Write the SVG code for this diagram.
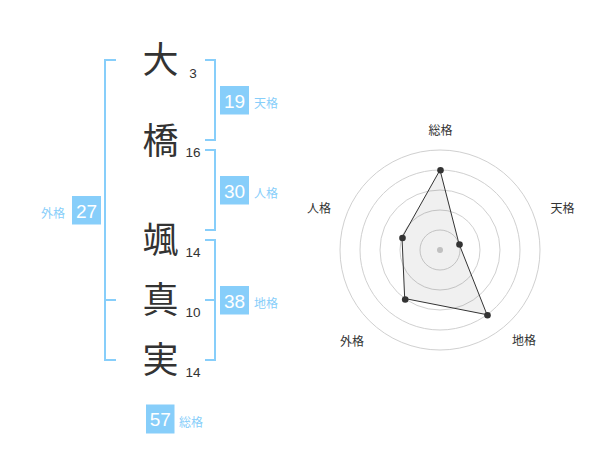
<svg xmlns="http://www.w3.org/2000/svg" width="600" height="470" viewBox="0 0 600 470">
<style>
text{font-family:"Liberation Sans","Noto Sans CJK JP",sans-serif}
.ch{font-size:36px;fill:#333;text-anchor:middle}
.st{font-size:13.5px;fill:#333;text-anchor:middle}
.br{fill:none;stroke:#87CEFA;stroke-width:2}
.box{fill:#87CEFA}
.bn{font-size:19px;fill:#fff;text-anchor:middle}
.bl{font-size:12px;fill:#87CEFA}
.ring{fill:none;stroke:#d0d0d0;stroke-width:1}
.rl{font-size:12px;fill:#333;text-anchor:middle}
.dot{fill:#333}
</style>
<rect width="600" height="470" fill="#fff"/>
<g id="chars">
<g id="c1"><text class="ch" x="160.5" y="72.5">大</text><text class="st" x="193" y="78">3</text></g>
<g id="c2"><text class="ch" x="160.5" y="154">橋</text><text class="st" x="193" y="157">16</text></g>
<g id="c3"><text class="ch" x="160.5" y="252.5">颯</text><text class="st" x="193" y="257">14</text></g>
<g id="c4"><text class="ch" x="160.5" y="313">真</text><text class="st" x="193" y="317">10</text></g>
<g id="c5"><text class="ch" x="160.5" y="372.5">実</text><text class="st" x="193" y="377">14</text></g>
</g>
<g id="brackets">
<path class="br" d="M116,60 H105 V360 H116 M105,300 H116"/>
<path class="br" d="M205,60 H215 V140 H205"/>
<path class="br" d="M205,150 H215 V230 H205"/>
<path class="br" d="M205,240 H215 V360 H205 M205,300 H215"/>
</g>
<g id="ten"><rect class="box" x="220" y="86" width="29" height="28.5"/><text class="bn" x="234.5" y="107.5">19</text><text class="bl" x="254" y="108">天格</text></g>
<g id="jin"><rect class="box" x="220" y="176" width="29" height="28.5"/><text class="bn" x="234.5" y="197.5">30</text><text class="bl" x="254" y="198">人格</text></g>
<g id="chi"><rect class="box" x="220" y="286" width="29" height="28.5"/><text class="bn" x="234.5" y="307.5">38</text><text class="bl" x="254" y="308">地格</text></g>
<g id="gai"><rect class="box" x="72" y="196" width="29" height="28.5"/><text class="bn" x="86.5" y="217.5">27</text><text class="bl" x="41" y="218">外格</text></g>
<g id="sou"><rect class="box" x="146" y="404.5" width="28.5" height="29"/><text class="bn" x="160.2" y="426">57</text><text class="bl" x="179" y="426.5">総格</text></g>
<g id="radar">
<circle class="ring" cx="440" cy="250" r="20"/>
<circle class="ring" cx="440" cy="250" r="40"/>
<circle class="ring" cx="440" cy="250" r="60"/>
<circle class="ring" cx="440" cy="250" r="80"/>
<circle class="ring" cx="440" cy="250" r="100"/>
<circle cx="440" cy="250" r="3" fill="#ccc"/>
<polygon points="440,170 459,243.8 487,314.7 404.7,298.5 402,237.6" fill="#000" fill-opacity="0.06" stroke="#333" stroke-width="1"/>
<circle class="dot" cx="440.5" cy="170.3" r="3.3"/>
<circle class="dot" cx="459.5" cy="244.5" r="3.3"/>
<circle class="dot" cx="487.5" cy="315.2" r="3.3"/>
<circle class="dot" cx="405.2" cy="299.5" r="3.3"/>
<circle class="dot" cx="402.5" cy="238" r="3.3"/>
<text class="rl" x="440.5" y="135">総格</text>
<text class="rl" x="562.5" y="213">天格</text>
<text class="rl" x="524" y="345">地格</text>
<text class="rl" x="352" y="346">外格</text>
<text class="rl" x="319" y="213">人格</text>
</g>
</svg>
